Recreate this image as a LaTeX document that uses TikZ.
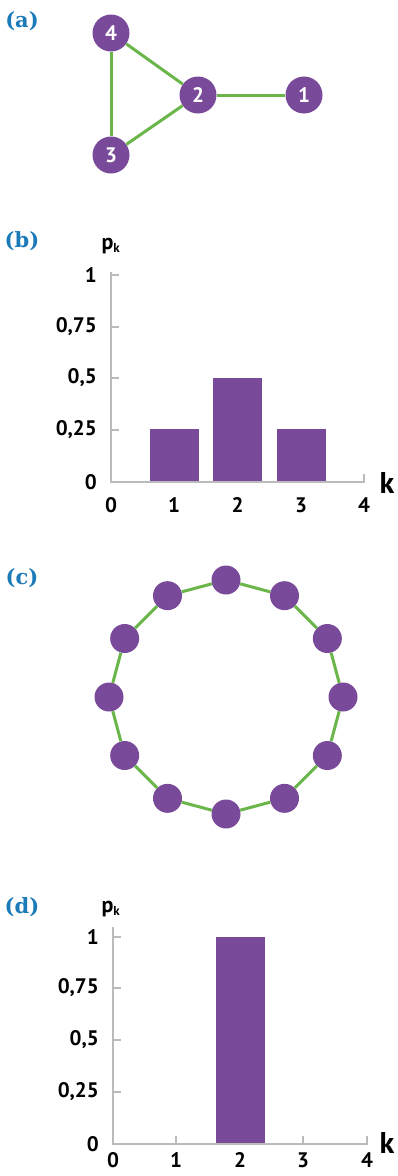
\documentclass[tikz,border=0pt]{standalone}
\usepackage{fontspec}
\setmainfont{PT Sans}
\newfontfamily\panelfont{DejaVu Serif}
\definecolor{purp}{HTML}{7A4A9A}
\definecolor{grn}{HTML}{6AB64A}
\definecolor{axgray}{HTML}{BBBBBB}
\definecolor{panblue}{HTML}{1B7AB8}
\begin{document}
\begin{tikzpicture}[x=1pt,y=-1pt,
  vtx/.style={circle, fill=purp, minimum size=37pt, inner sep=0pt, text=white, font=\bfseries\fontsize{21}{21}\selectfont},
  rv/.style={circle, fill=purp, minimum size=29pt, inner sep=0pt},
  link/.style={draw=grn, line width=3pt},
  axisline/.style={draw=axgray, line width=1.5pt},
  bar/.style={fill=purp},
  panel/.style={text=panblue, font=\panelfont\bfseries\fontsize{21}{21}\selectfont, inner sep=0pt},
  ylab/.style={anchor=east, inner sep=0pt, font=\bfseries\fontsize{21}{21}\selectfont},
  xlab/.style={inner sep=0pt, font=\bfseries\fontsize{21}{21}\selectfont},
  klab/.style={inner sep=0pt, font=\bfseries\fontsize{30}{30}\selectfont},
  pklab/.style={inner sep=0pt, font=\bfseries\fontsize{22}{22}\selectfont}]
\useasboundingbox (0,0) rectangle (398,1176);

% ---------- (a) ----------
\node[panel] (pa) at (22,21) {(a)};
\node[vtx] (n4) at (111,33) {4};
\node[vtx] (n2) at (198,95) {2};
\node[vtx] (n1) at (304,95) {1};
\node[vtx] (n3) at (111,155) {3};
\draw[link] (n4) -- (n2);
\draw[link] (n2) -- (n1);
\draw[link] (n2) -- (n3);
\draw[link] (n4) -- (n3);

% ---------- (b) ----------
\node[panel] (pb) at (22,241) {(b)};
\node[pklab] (pkb) at (111,246) {p\textsubscript{\fontsize{13}{13}\selectfont k}};
\fill[bar] (149.5,482) rectangle (198.5,429);
\fill[bar] (213,482) rectangle (262,378);
\fill[bar] (276.5,482) rectangle (325.5,429);
\draw[axisline] (111,272) -- (111,482) -- (364,482) -- (364,474);
\foreach \yy/\lab [count=\i] in {275/1,327/{0,75},378/{0,5},430/{0,25},482/0}{
  \draw[axisline] (111,\yy) -- (119,\yy);
  \node[ylab] (by\i) at (97,\yy) {\lab};
}
\foreach \xx/\lab [count=\i] in {111/0,174/1,237.5/2,301/3,364/4}{
  \node[xlab] (bx\i) at (\xx,505) {\lab};
}
\node[klab] (kb) at (387,483) {k};

% ---------- (c) ----------
\node[panel] (pc) at (22,578) {(c)};
\foreach \i in {0,...,11}{
  \pgfmathsetmacro{\ang}{90-30*\i}
  \node[rv] (r\i) at ({226+117*cos(\ang)},{697-117*sin(\ang)}) {};
}
\foreach \i in {0,...,11}{
  \pgfmathtruncatemacro{\j}{mod(\i+1,12)}
  \draw[link] (r\i) -- (r\j);
}

% ---------- (d) ----------
\node[panel] (pd) at (22,907) {(d)};
\node[pklab] (pkd) at (111,909) {p\textsubscript{\fontsize{13}{13}\selectfont k}};
\fill[bar] (215.5,1144) rectangle (264.5,937);
\draw[axisline] (113,927) -- (113,1144) -- (367,1144) -- (367,1136);
\draw[axisline] (176,1144) -- (176,1136);
\draw[axisline] (303,1144) -- (303,1136);
\foreach \yy/\lab [count=\i] in {937/1,988/{0,75},1040/{0,5},1092/{0,25},1144/0}{
  \draw[axisline] (113,\yy) -- (121,\yy);
  \node[ylab] (dy\i) at (99,\yy) {\lab};
}
\foreach \xx/\lab [count=\i] in {113/0,176/1,240/2,303/3,367/4}{
  \node[xlab] (dx\i) at (\xx,1160) {\lab};
}
\node[klab] (kd) at (387,1143) {k};
\end{tikzpicture}
\end{document}
